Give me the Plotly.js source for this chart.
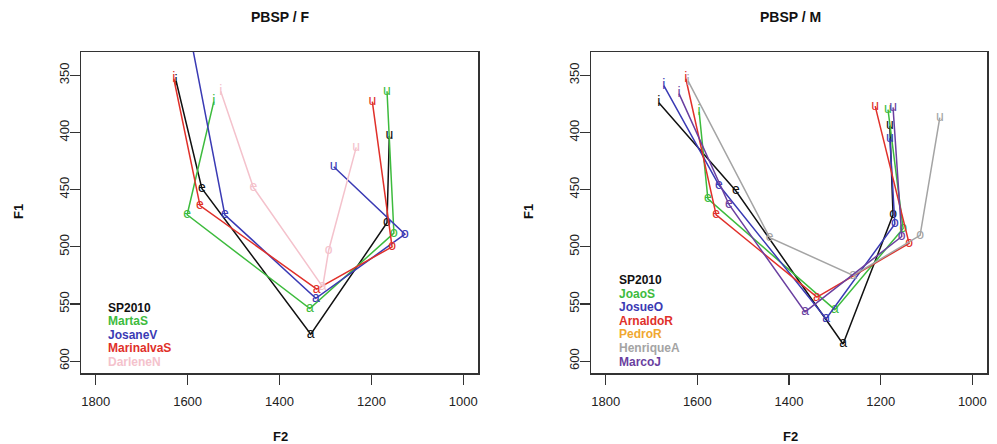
<!DOCTYPE html>
<html>
<head>
<meta charset="utf-8">
<script src="https://cdn.plot.ly/plotly-3.0.1.min.js"></script>
<style>html,body{margin:0;padding:0;background:#fff;}#chart{width:997px;height:444px;}</style>
</head>
<body>
<div id="chart"></div>
<script>
// vowel labels used as point markers
const vowels = ['i', 'e', 'a', 'o', 'u'];
const xTicks = [1800, 1600, 1400, 1200, 1000];
const yTicks = [350, 400, 450, 500, 550, 600];

// ---- Panel F ----
const sp2010F_F2 = [1625, 1569, 1332, 1166, 1161];
const sp2010F_F1 = [355, 449, 576.5, 479, 403];
const martaS_F2 = [1543, 1601, 1334, 1151, 1166];
const martaS_F1 = [373, 472, 554, 488, 364];
const josaneV_F2 = [1592, 1519, 1321, 1127, 1282];
const josaneV_F1 = [320, 472, 545, 489, 430];
const marinalvaS_F2 = [1630, 1573, 1319, 1155, 1198];
const marinalvaS_F1 = [353, 464, 537, 500, 373];
const darleneN_F2 = [1528, 1457, 1306, 1293, 1233];
const darleneN_F1 = [364, 448, 535, 503, 413];

// ---- Panel M ----
const sp2010M_F2 = [1684, 1516, 1282, 1173, 1180];
const sp2010M_F1 = [374, 451, 585, 472, 394];
const joaoS_F2 = [1596, 1577, 1300, 1151, 1184];
const joaoS_F1 = [382, 458, 555, 484, 380];
const josueO_F2 = [1673, 1553, 1319, 1169, 1180];
const josueO_F1 = [359, 446, 563, 480, 405];
const arnaldoR_F2 = [1625, 1559, 1339, 1138, 1212];
const arnaldoR_F1 = [353, 472, 544, 497, 377];
const henriqueA_F2 = [1620, 1442, 1260, 1114, 1071];
const henriqueA_F1 = [355, 492, 525, 490, 387];
const marcoJ_F2 = [1640, 1531, 1365, 1154, 1173];
const marcoJ_F1 = [366, 463, 557, 491, 378];

const legendF = ['SP2010', 'MartaS', 'JosaneV', 'MarinalvaS', 'DarleneN'];
const legendM = ['SP2010', 'JoaoS', 'JosueO', 'ArnaldoR', 'PedroR', 'HenriqueA', 'MarcoJ'];

const C = {
  black: '#111111', green: '#3dbb3d', blue: '#3a3ab4', red: '#e0302a',
  pink: '#f4c2cc', orange: '#f0a830', gray: '#a4a4a4', purple: '#6a3fa0'
};
const colorsF = [C.black, C.green, C.blue, C.red, C.pink];
const colorsM = [C.black, C.green, C.blue, C.red, C.orange, C.gray, C.purple];

const FONT = 'Liberation Sans, Arial, sans-serif';

function series(F2, F1, color, xa, ya) {
  return {
    x: F2, y: F1, text: vowels, mode: 'lines+text', type: 'scatter',
    xaxis: xa, yaxis: ya, cliponaxis: true,
    line: {color: color, width: 1.5},
    textposition: 'middle center',
    textfont: {family: FONT, size: 14, color: color},
    hoverinfo: 'skip', showlegend: false
  };
}

const data = [
  series(sp2010F_F2, sp2010F_F1, C.black, 'x', 'y'),
  series(martaS_F2, martaS_F1, C.green, 'x', 'y'),
  series(josaneV_F2, josaneV_F1, C.blue, 'x', 'y'),
  series(marinalvaS_F2, marinalvaS_F1, C.red, 'x', 'y'),
  series(darleneN_F2, darleneN_F1, C.pink, 'x', 'y'),
  series(sp2010M_F2, sp2010M_F1, C.black, 'x2', 'y2'),
  series(joaoS_F2, joaoS_F1, C.green, 'x2', 'y2'),
  series(josueO_F2, josueO_F1, C.blue, 'x2', 'y2'),
  series(arnaldoR_F2, arnaldoR_F1, C.red, 'x2', 'y2'),
  series(henriqueA_F2, henriqueA_F1, C.gray, 'x2', 'y2'),
  series(marcoJ_F2, marcoJ_F1, C.purple, 'x2', 'y2')
];

const W = 997, H = 444;
const px = v => v / W;
const py = v => 1 - v / H;

function xaxis(d, anchor) {
  return {
    domain: d, anchor: anchor, range: [1832, 968], autorange: false,
    tickmode: 'array', tickvals: xTicks, ticktext: xTicks.map(String),
    ticks: 'outside', ticklen: 10, tickwidth: 1.2, tickcolor: '#333',
    ticklabelstandoff: 6,
    showline: true, mirror: true, linecolor: '#333', linewidth: 1.5,
    showgrid: false, zeroline: false, automargin: false,
    tickfont: {family: FONT, size: 13, color: '#222'}
  };
}
function yaxis(d, anchor) {
  return {
    domain: d, anchor: anchor, range: [610.4, 329.6], autorange: false,
    tickmode: 'array', tickvals: yTicks, ticktext: yTicks.map(String),
    ticks: 'outside', ticklen: 10, tickwidth: 1.2, tickcolor: '#333',
    tickangle: -90, ticklabelstandoff: -5,
    showline: true, mirror: true, linecolor: '#333', linewidth: 1.5,
    showgrid: false, zeroline: false, automargin: false,
    tickfont: {family: FONT, size: 13, color: '#222'}
  };
}

const yDom = [py(373), py(52)];
const xDomF = [px(81), px(478)];
const xDomM = [px(591), px(987)];

const annotations = [];
function ann(text, x, y, opts) {
  annotations.push(Object.assign({
    text: text, x: x, y: y, xref: 'paper', yref: 'paper',
    showarrow: false, xanchor: 'center', yanchor: 'middle',
    font: {family: FONT, size: 13, color: '#111'}
  }, opts || {}));
}
ann('<b>PBSP / F</b>', px(280), py(17), {font: {family: FONT, size: 14, color: '#111'}});
ann('<b>PBSP / M</b>', px(790), py(17), {font: {family: FONT, size: 14, color: '#111'}});
ann('<b>F2</b>', px(280), py(436), {font: {family: FONT, size: 13, color: '#111'}});
ann('<b>F2</b>', px(790), py(436), {font: {family: FONT, size: 13, color: '#111'}});
ann('<b>F1</b>', px(18), py(212), {textangle: -90, font: {family: FONT, size: 13, color: '#111'}});
ann('<b>F1</b>', px(528), py(212), {textangle: -90, font: {family: FONT, size: 13, color: '#111'}});

legendF.forEach((t, i) => ann('<b>' + t + '</b>', px(106), py(308 + i * 13.4),
  {xanchor: 'left', font: {family: FONT, size: 12, color: colorsF[i]}}));
legendM.forEach((t, i) => ann('<b>' + t + '</b>', px(617), py(280 + i * 13.6),
  {xanchor: 'left', font: {family: FONT, size: 12, color: colorsM[i]}}));

const layout = {
  width: W, height: H,
  margin: {l: 0, r: 0, t: 0, b: 0},
  paper_bgcolor: '#fff', plot_bgcolor: '#fff',
  showlegend: false,
  xaxis: xaxis(xDomF, 'y'),
  yaxis: yaxis(yDom, 'x'),
  xaxis2: xaxis(xDomM, 'y2'),
  yaxis2: yaxis(yDom, 'x2'),
  annotations: annotations
};

Plotly.newPlot('chart', data, layout, {displayModeBar: false, staticPlot: true});
</script>
</body>
</html>
